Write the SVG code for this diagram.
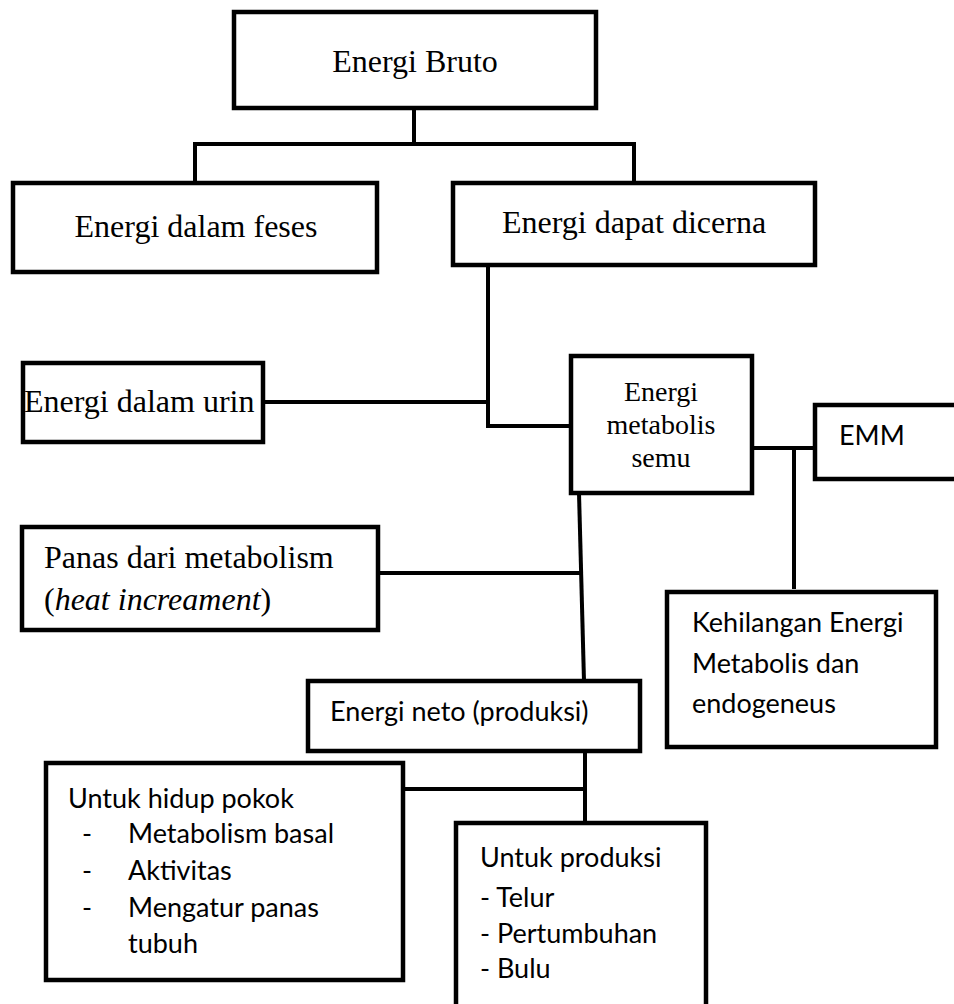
<svg xmlns="http://www.w3.org/2000/svg" width="954" height="1004" viewBox="0 0 954 1004">
<style>
.box{fill:#fff;stroke:#000;stroke-width:4.5;}
.con line{stroke:#000;stroke-width:4;}
.serif{font-family:"Liberation Serif","Times New Roman",serif;font-size:32px;fill:#000;}
.sans{font-family:Lato,"Open Sans",sans-serif;font-size:27px;fill:#000;}
</style>
<rect width="954" height="1004" fill="#fff"/>
<g id="connectors" class="con">
<line x1="414" y1="108" x2="414" y2="144"/>
<line x1="193" y1="144" x2="636" y2="144"/>
<line x1="195" y1="144" x2="195" y2="183"/>
<line x1="634" y1="144" x2="634" y2="183"/>
<line x1="488" y1="265" x2="488" y2="428"/>
<line x1="486" y1="426" x2="571" y2="426"/>
<line x1="263" y1="402" x2="488" y2="402"/>
<line x1="752" y1="448" x2="815" y2="448"/>
<line x1="794" y1="448" x2="794" y2="589"/>
<line x1="579" y1="493" x2="584" y2="681"/>
<line x1="378" y1="573" x2="582" y2="573"/>
<line x1="585" y1="751" x2="585" y2="823"/>
<line x1="403" y1="789" x2="587" y2="789"/>
</g>
<g id="n-bruto"><rect class="box" x="234" y="12" width="362" height="96"/><text class="serif" x="415" y="72" text-anchor="middle">Energi Bruto</text></g>
<g id="n-feses"><rect class="box" x="13" y="183" width="364" height="89"/><text class="serif" x="196" y="237" text-anchor="middle">Energi dalam feses</text></g>
<g id="n-dicerna"><rect class="box" x="453" y="183" width="362" height="82"/><text class="serif" x="634" y="233" text-anchor="middle">Energi dapat dicerna</text></g>
<g id="n-urin"><rect class="box" x="23" y="363" width="240" height="79"/><text class="serif" x="24" y="412">Energi dalam urin</text></g>
<g id="n-metabolis"><rect class="box" x="571" y="356" width="181" height="137"/><text class="serif" text-anchor="middle" style="font-size:28px"><tspan x="661" y="401">Energi</tspan><tspan x="661" y="434">metabolis</tspan><tspan x="661" y="467">semu</tspan></text></g>
<g id="n-emm"><rect class="box" x="815" y="405" width="150" height="74"/><text class="sans" x="839" y="445">EMM</text></g>
<g id="n-panas"><rect class="box" x="22" y="527" width="356" height="103"/><text class="serif"><tspan x="44" y="568">Panas dari metabolism</tspan><tspan x="44" y="610">(<tspan font-style="italic">heat increament</tspan>)</tspan></text></g>
<g id="n-kehilangan"><rect class="box" x="667" y="592" width="269" height="155"/><text class="sans"><tspan x="692" y="632">Kehilangan Energi</tspan><tspan x="692" y="673">Metabolis dan</tspan><tspan x="692" y="713">endogeneus</tspan></text></g>
<g id="n-neto"><rect class="box" x="308" y="681" width="332" height="70"/><text class="sans" x="330" y="721">Energi neto (produksi)</text></g>
<g id="n-hidup"><rect class="box" x="46" y="763" width="357" height="217"/><text class="sans"><tspan x="68" y="808">Untuk hidup pokok</tspan><tspan x="82" y="843">-</tspan><tspan x="128" y="843">Metabolism basal</tspan><tspan x="82" y="880">-</tspan><tspan x="128" y="880">Aktivitas</tspan><tspan x="82" y="917">-</tspan><tspan x="128" y="917">Mengatur panas</tspan><tspan x="128" y="953">tubuh</tspan></text></g>
<g id="n-produksi"><rect class="box" x="456" y="823" width="250" height="190"/><text class="sans"><tspan x="480" y="867">Untuk produksi</tspan><tspan x="480" y="907">- Telur</tspan><tspan x="480" y="943">- Pertumbuhan</tspan><tspan x="480" y="978">- Bulu</tspan></text></g>
</svg>
